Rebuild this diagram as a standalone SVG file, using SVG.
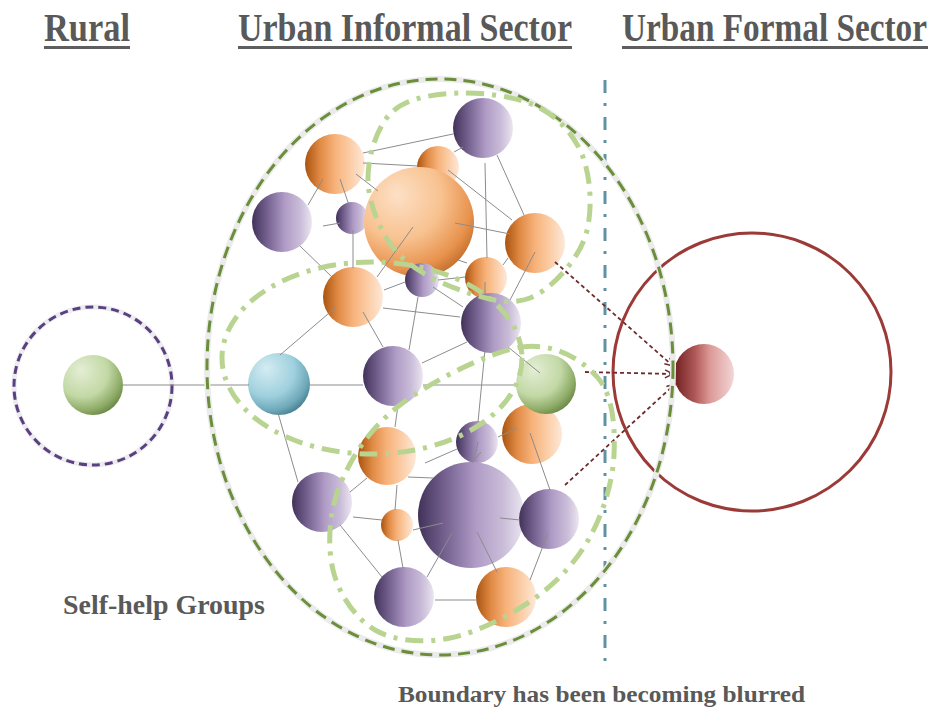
<svg xmlns="http://www.w3.org/2000/svg" width="934" height="708" viewBox="0 0 934 708">
<style>
.t{font-family:"Liberation Serif","Times New Roman",serif;font-weight:bold;fill:#595959}
.ul{fill:#5e5e5e}
.e{stroke:#8c8c8c;stroke-width:1;fill:none}
.grp{fill:none;stroke:#b8d490;stroke-width:5;stroke-dasharray:18 8 4 8}
.arr{fill:none;stroke:#6e2b2b;stroke-width:1.8;stroke-dasharray:4 3;marker-end:url(#ah)}
</style>
<defs>
<linearGradient id="gOr" x1="0" y1="0" x2="1" y2="0">
<stop offset="0" stop-color="#a8530f"/><stop offset="0.25" stop-color="#e08a45"/><stop offset="0.5" stop-color="#f7b27a"/><stop offset="0.75" stop-color="#fbcda6"/><stop offset="1" stop-color="#fde8d8"/>
</linearGradient>
<linearGradient id="gPu" x1="0" y1="0" x2="1" y2="0">
<stop offset="0" stop-color="#41325a"/><stop offset="0.3" stop-color="#7e6a98"/><stop offset="0.55" stop-color="#b09cc6"/><stop offset="0.8" stop-color="#c9bcd8"/><stop offset="1" stop-color="#ebe6f1"/>
</linearGradient>
<linearGradient id="gRe" x1="0" y1="0" x2="1" y2="0">
<stop offset="0" stop-color="#6e1f1f"/><stop offset="0.35" stop-color="#b05858"/><stop offset="0.6" stop-color="#dc9a96"/><stop offset="1" stop-color="#f2d6d6"/>
</linearGradient>
<radialGradient id="gBigO" cx="0.35" cy="0.3" r="0.85" fx="0.3" fy="0.25">
<stop offset="0" stop-color="#fde0c6"/><stop offset="0.45" stop-color="#f8c290"/><stop offset="0.75" stop-color="#e8934e"/><stop offset="1" stop-color="#ac5a18"/>
</radialGradient>
<radialGradient id="gBl" cx="0.35" cy="0.3" r="0.85" fx="0.3" fy="0.25">
<stop offset="0" stop-color="#d4ecf2"/><stop offset="0.5" stop-color="#9fd0de"/><stop offset="0.75" stop-color="#6fa9ba"/><stop offset="1" stop-color="#2b6272"/>
</radialGradient>
<radialGradient id="gGr" cx="0.35" cy="0.3" r="0.85" fx="0.3" fy="0.25">
<stop offset="0" stop-color="#e4eed5"/><stop offset="0.5" stop-color="#c2d8a5"/><stop offset="0.75" stop-color="#8fac68"/><stop offset="1" stop-color="#4f6d2c"/>
</radialGradient>
<marker id="ah" viewBox="0 0 10 10" refX="9" refY="5" markerWidth="10" markerHeight="10" markerUnits="userSpaceOnUse" orient="auto">
<path d="M1,1 L9,5 L1,9" fill="none" stroke="#6e2b2b" stroke-width="1.5"/>
</marker>
</defs>
<rect width="934" height="708" fill="#ffffff"/>

<g id="titles">
<text class="t" transform="translate(44,41) scale(1,1.2)" x="0" y="0" font-size="33" textLength="86" lengthAdjust="spacingAndGlyphs">Rural</text>
<rect class="ul" x="44" y="46" width="86" height="3"/>
<text class="t" transform="translate(238,41) scale(1,1.2)" x="0" y="0" font-size="33" textLength="334" lengthAdjust="spacingAndGlyphs">Urban Informal Sector</text>
<rect class="ul" x="238" y="46" width="334" height="3"/>
<text class="t" transform="translate(622,41) scale(1,1.2)" x="0" y="0" font-size="33" textLength="305" lengthAdjust="spacingAndGlyphs">Urban Formal Sector</text>
<rect class="ul" x="622" y="46" width="306" height="3"/>
</g>

<g id="boundaries">
<line x1="605" y1="80" x2="605" y2="670" stroke="#5f93a3" stroke-width="3" stroke-dasharray="13 10 3 11"/>
<circle cx="93" cy="386" r="79" fill="none" stroke="#ececf0" stroke-width="5"/>
<circle cx="93" cy="386" r="79" fill="none" stroke="#5a4080" stroke-width="3" stroke-dasharray="8 5"/>
<circle cx="752" cy="372" r="139" fill="none" stroke="#9b3a36" stroke-width="3"/>
</g>

<g id="nodes">
<circle id="n-rural" cx="93" cy="385" r="30" fill="url(#gGr)"/>
<circle id="n-p2" cx="282" cy="222" r="30" fill="url(#gPu)"/>
<circle id="n-p3" cx="352" cy="218" r="16" fill="url(#gPu)"/>
<circle id="n-o2" cx="438" cy="167" r="21" fill="url(#gOr)"/>
<circle id="n-o1" cx="335" cy="164" r="30" fill="url(#gOr)"/>
<circle id="n-obig" cx="419" cy="222" r="55" fill="url(#gBigO)"/>
<circle id="n-p1" cx="483" cy="128" r="30" fill="url(#gPu)"/>
<circle id="n-o3" cx="535" cy="243" r="30" fill="url(#gOr)"/>
<circle id="n-o5" cx="486" cy="278" r="21" fill="url(#gOr)"/>
<circle id="n-p4" cx="422" cy="280" r="17" fill="url(#gPu)"/>
<circle id="n-p5" cx="491" cy="323" r="30" fill="url(#gPu)"/>
<circle id="n-o4" cx="353" cy="297" r="30" fill="url(#gOr)"/>
<circle id="n-blue" cx="279" cy="384" r="31" fill="url(#gBl)"/>
<circle id="n-p6" cx="393" cy="376" r="30" fill="url(#gPu)"/>
<circle id="n-o7" cx="532" cy="434" r="30" fill="url(#gOr)"/>
<circle id="n-green" cx="546" cy="384" r="30" fill="url(#gGr)"/>
<circle id="n-p7" cx="477" cy="442" r="21" fill="url(#gPu)"/>
<circle id="n-o6" cx="387" cy="456" r="29" fill="url(#gOr)"/>
<circle id="n-p8" cx="322" cy="502" r="30" fill="url(#gPu)"/>
<circle id="n-o8" cx="397" cy="525" r="16" fill="url(#gOr)"/>
<circle id="n-pbig" cx="471" cy="515" r="53" fill="url(#gPu)"/>
<circle id="n-p9" cx="549" cy="519" r="30" fill="url(#gPu)"/>
<circle id="n-p10" cx="404" cy="597" r="30" fill="url(#gPu)"/>
<circle id="n-o9" cx="506" cy="597" r="30" fill="url(#gOr)"/>
<circle id="n-red" cx="704" cy="374" r="30" fill="url(#gRe)"/>
</g>

<g id="connectors">
<path class="e" d="M363,153L453,134M363,163L418,166M356,174L378,191M323,179L308,205M340,179L350,208M323,226L340,223M353,230L353,268M300,246L332,277M413,227L377,277M455,223L510,234M448,170L512,220M454,152L463,147M485,163L487,258M497,155L524,215M535,252L510,300M503,265L508,258M458,260L467,263M438,280L465,277M384,290L405,282M485,282L485,295M433,287L463,307M418,297L409,350M383,308L460,317M335,308L280,355M363,312L383,347M422,363L467,342M485,350L478,422M508,347L540,373M123,385L249,385M310,385L363,385M423,385L517,385M278,413L298,482M398,405L395,427M425,463L457,449M478,442L473,463M481,452L473,462M498,437L517,428M530,433L550,490M350,492L367,478M408,477L433,478M397,485L395,510M353,517L382,520M413,530L443,523M340,525L382,577M398,540L403,568M452,533L427,577M477,532L497,572M500,518L520,520M548,533L530,580M435,600L477,600"/>
<path class="arr" d="M555,262L673,366"/>
<path class="arr" d="M585,372L673,374" stroke-width="2.2" stroke-dasharray="5 3"/>
<path class="arr" d="M565,485L675,384"/>
</g>

<g id="groups">
<ellipse cx="440" cy="367" rx="233" ry="288" fill="none" stroke="#ebebeb" stroke-width="6"/>
<ellipse cx="440" cy="367" rx="233" ry="288" fill="none" stroke="#6b8e3a" stroke-width="3" stroke-dasharray="12 7"/>
<path class="grp" d="M368,180C367.5,157 376.7,126.5 392,112C407.3,97.5 435.3,93.7 460,93C484.7,92.3 519.3,96.8 540,108C560.7,119.2 576.7,138 584,160C591.3,182 593,217 584,240C575,263 550.7,289.7 530,298C509.3,306.3 482.5,298 460,290C437.5,282 410.3,268.3 395,250C379.7,231.7 368.5,203 368,180Z"/>
<ellipse class="grp" cx="372" cy="358" rx="150" ry="96"/>
<path class="grp" d="M522,347C555,342.5 582.7,360 598,378C613.3,396 615.3,428.5 614,455C612.7,481.5 603.2,513.2 590,537C576.8,560.8 558.3,581.2 535,598C511.7,614.8 476.7,632.7 450,638C423.3,643.3 394.5,641.3 375,630C355.5,618.7 338.8,594.2 333,570C327.2,545.8 328.8,512.5 340,485C351.2,457.5 369.7,428 400,405C430.3,382 489,351.5 522,347Z"/>
</g>

<g id="labels">
<text class="t" x="63" y="614" font-size="27" textLength="202" lengthAdjust="spacingAndGlyphs">Self-help Groups</text>
<text class="t" x="398" y="702" font-size="24" textLength="407" lengthAdjust="spacingAndGlyphs">Boundary has been becoming blurred</text>
</g>
</svg>
